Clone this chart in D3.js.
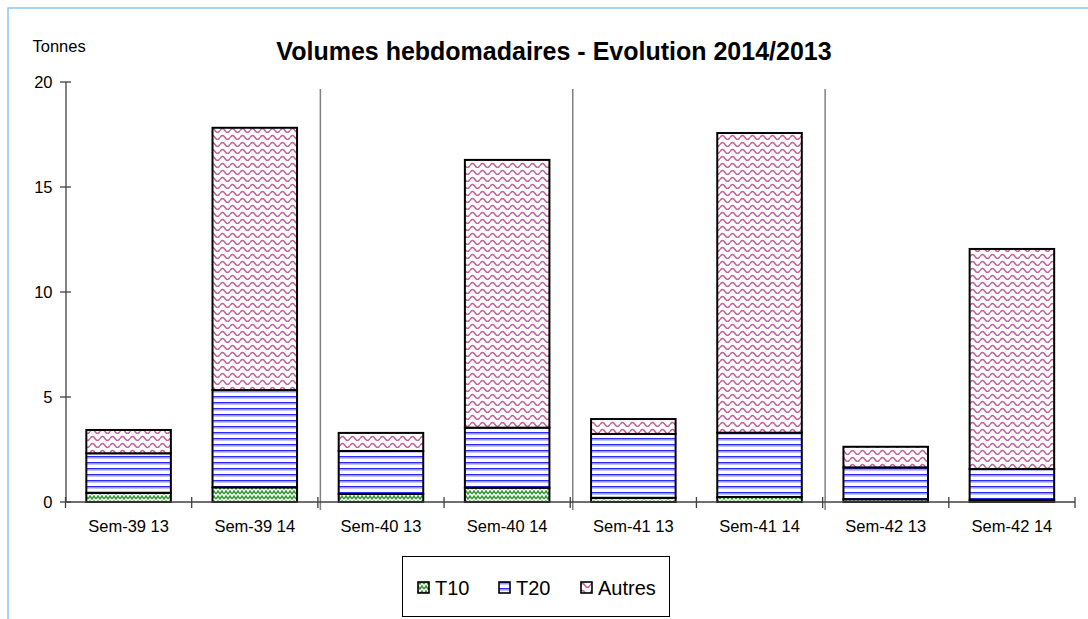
<!DOCTYPE html>
<html><head><meta charset="utf-8">
<script src="https://cdn.jsdelivr.net/npm/d3@7"></script>
<style>
body{margin:0;background:#fff}
svg{display:block}
text{font-family:"Liberation Sans",Arial,sans-serif;fill:#000}
</style></head>
<body><svg id="c" width="1088" height="619"></svg>
<script>
const categories = ["Sem-39 13","Sem-39 14","Sem-40 13","Sem-40 14","Sem-41 13","Sem-41 14","Sem-42 13","Sem-42 14"];
const seriesNames = ["T10","T20","Autres"];
const t10 = [0.44,0.70,0.38,0.68,0.20,0.24,0.13,0.10];
const t20 = [1.88,4.63,2.05,2.86,3.04,3.06,1.52,1.47];
const autres = [1.11,12.49,0.86,12.75,0.71,14.27,0.98,10.48];
const yTicks = [0,5,10,15,20];
const titleText = "Volumes hebdomadaires - Evolution 2014/2013";
const yUnit = "Tonnes";

const rows = categories.map((c,i)=>({cat:c, T10:t10[i], T20:t20[i], Autres:autres[i]}));
const svg = d3.select("#c");

// patterns
const defs = svg.append("defs");
const pT10 = defs.append("pattern").attr("id","p-T10").attr("patternUnits","userSpaceOnUse").attr("width",8).attr("height",5);
pT10.append("rect").attr("width",8).attr("height",5).attr("fill","#fff");
pT10.append("path").attr("d","M0,4 L2,1 L4,4 L6,1 L8,4").attr("fill","none").attr("stroke","#339933").attr("stroke-width",1.5);
const pT20 = defs.append("pattern").attr("id","p-T20").attr("patternUnits","userSpaceOnUse").attr("width",8).attr("height",6);
pT20.append("rect").attr("width",8).attr("height",6).attr("fill","#fff");
pT20.append("rect").attr("y",0).attr("width",8).attr("height",1.6).attr("fill","#2a2aff");
pT20.append("rect").attr("y",1.6).attr("width",8).attr("height",1.2).attr("fill","#b8b8ff");
const pA = defs.append("pattern").attr("id","p-Autres").attr("patternUnits","userSpaceOnUse").attr("width",10).attr("height",7);
pA.append("rect").attr("width",10).attr("height",7).attr("fill","#fff");
pA.append("path").attr("d","M0,4.5 Q2.5,0.5 5,4.5 T10,4.5").attr("fill","none").attr("stroke","#c0659a").attr("stroke-width",1.5);

// border
svg.append("rect").attr("x",8).attr("y",8).attr("width",1200).attr("height",800)
  .attr("fill","none").attr("stroke","#88c8ec").attr("stroke-width",1.5);

const x = d3.scaleBand().domain(categories).range([65.5,1075]).paddingInner(0.33).paddingOuter(0.165);
const y = d3.scaleLinear().domain([0,20]).range([502,82]);
const step = x.step();
const x0 = x.range()[0];

// separators between weeks
[2,4,6].forEach(i=>{
  svg.append("line").attr("x1",x0+i*step+2.5).attr("x2",x0+i*step+2.5).attr("y1",89).attr("y2",510)
    .attr("stroke","#808080").attr("stroke-width",1.5);
});

// stacked bars
const stack = d3.stack().keys(seriesNames)(rows);
stack.forEach(s=>{
  svg.append("g").selectAll("rect").data(s).join("rect")
    .attr("x",d=>x(d.data.cat)).attr("width",x.bandwidth())
    .attr("y",d=>y(d[1])).attr("height",d=>y(d[0])-y(d[1]))
    .attr("fill",`url(#p-${s.key})`).attr("stroke","#000").attr("stroke-width",2);
});

// y axis
const ax = "#404040";
svg.append("line").attr("x1",66).attr("x2",66).attr("y1",y(20)).attr("y2",y(0)).attr("stroke",ax).attr("stroke-width",1.3);
yTicks.forEach(t=>{
  svg.append("line").attr("x1",60).attr("x2",71).attr("y1",y(t)).attr("y2",y(t)).attr("stroke",ax).attr("stroke-width",1.3);
  svg.append("text").attr("x",52.5).attr("y",y(t)).attr("dy","0.36em").attr("text-anchor","end").attr("font-size",16.5).text(t);
});
// x axis
svg.append("line").attr("x1",66).attr("x2",1075).attr("y1",y(0)).attr("y2",y(0)).attr("stroke",ax).attr("stroke-width",1.3);
d3.range(categories.length+1).forEach(i=>{
  const xx = x0+i*step;
  svg.append("line").attr("x1",xx).attr("x2",xx).attr("y1",497).attr("y2",508).attr("stroke",ax).attr("stroke-width",1.3);
});
svg.append("g").selectAll("text").data(categories).join("text")
  .attr("x",d=>x(d)+x.bandwidth()/2).attr("y",532).attr("text-anchor","middle").attr("font-size",16.5).text(d=>d);

// labels
svg.append("text").attr("x",32.5).attr("y",52).attr("font-size",16.5).text(yUnit);
svg.append("text").attr("x",554).attr("y",60).attr("text-anchor","middle").attr("font-size",25).attr("font-weight","bold").text(titleText);

// legend
svg.append("rect").attr("x",402.5).attr("y",556.5).attr("width",267).attr("height",60).attr("fill","#fff").attr("stroke","#000").attr("stroke-width",1);
const legX = [418,499,581];
seriesNames.forEach((k,i)=>{
  svg.append("rect").attr("x",legX[i]).attr("y",582).attr("width",11).attr("height",11)
    .attr("fill",`url(#p-${k})`).attr("stroke","#000").attr("stroke-width",1.6);
  svg.append("text").attr("x",legX[i]+17).attr("y",594.5).attr("font-size",20).text(k);
});
</script></body></html>
